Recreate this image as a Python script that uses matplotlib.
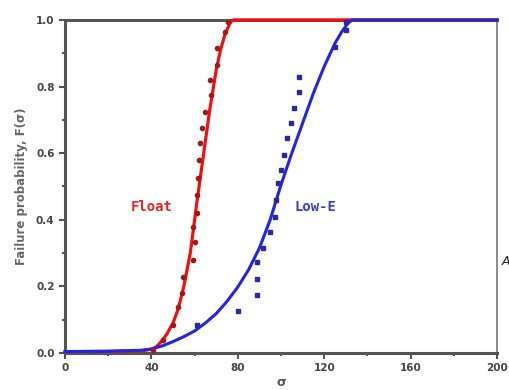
import numpy as np
import matplotlib
matplotlib.use("Agg")
import matplotlib.pyplot as plt
from matplotlib.ticker import MultipleLocator

float_x = [40.6, 45.3, 49.9, 52.2, 54.0, 54.5, 59.1, 60.0, 59.1, 61.0, 61.0,
           61.4, 61.9, 62.4, 63.3, 64.7, 67.4, 67.0, 70.2, 70.2, 73.9, 75.3]
float_f = [0.009, 0.039, 0.084, 0.138, 0.180, 0.228, 0.279, 0.333, 0.378, 0.420, 0.474,
           0.526, 0.580, 0.631, 0.676, 0.724, 0.775, 0.820, 0.865, 0.916, 0.964, 0.994]

lowe_x = [61.0, 79.9, 88.7, 89.1, 89.1, 91.5, 94.7, 97.0, 97.9, 98.4,
          99.8, 101.6, 103.0, 104.4, 106.2, 108.1, 108.1, 125.2, 130.3, 130.3]
lowe_f = [0.084, 0.126, 0.174, 0.222, 0.273, 0.315, 0.363, 0.408, 0.459, 0.511,
          0.550, 0.595, 0.646, 0.691, 0.736, 0.784, 0.829, 0.919, 0.970, 0.994]

# fitted curves
float_fit_x = [0, 20, 36, 40, 42, 44, 47, 50, 52, 53.5, 55, 56.5, 58, 61, 64, 67, 70,
               72, 74, 76, 77, 78, 200]
float_fit_f = [0.004, 0.005, 0.007, 0.011, 0.017, 0.03, 0.055, 0.09, 0.125, 0.16, 0.2,
               0.25, 0.3, 0.45, 0.59, 0.73, 0.85, 0.91, 0.955, 0.985, 0.996, 1.0, 1.0]

lowe_fit_x = [0, 20, 35, 40, 45, 50, 55, 60, 65, 70, 75, 80, 85, 90, 95, 100, 105, 110,
              115, 120, 125, 128, 131, 133, 140, 200]
lowe_fit_f = [0.004, 0.005, 0.008, 0.012, 0.021, 0.034, 0.049, 0.066, 0.09, 0.118, 0.155,
              0.198, 0.25, 0.315, 0.4, 0.505, 0.6, 0.69, 0.78, 0.86, 0.93, 0.963, 0.99,
              1.0, 1.0, 1.0]

fig = plt.figure(figsize=(5.1, 3.9), dpi=100)
ax = fig.add_axes([0.1275, 0.095, 0.847, 0.854])

ax.plot(float_fit_x, float_fit_f, '-', color='#f01010', lw=2.3, clip_on=False, zorder=3)
ax.plot(lowe_fit_x, lowe_fit_f, '-', color='#2424e6', lw=2.2, clip_on=False, zorder=3)
ax.plot(float_x, float_f, 'o', color='#a01818', ms=3, zorder=4, clip_on=False)
ax.plot(lowe_x, lowe_f, 's', color='#2a2aa0', ms=2.5, zorder=4, clip_on=False)

ax.text(40, 0.438, "Float", color='#f02020', fontsize=10, fontweight='bold',
        family='DejaVu Sans Mono', ha='center', va='center')
ax.text(116, 0.438, "Low-E", color='#3a3ae0', fontsize=10, fontweight='bold',
        family='DejaVu Sans Mono', ha='center', va='center')

ax.set_xlim(0, 200)
ax.set_ylim(0, 1.0)
ax.xaxis.set_major_locator(MultipleLocator(40))
ax.xaxis.set_minor_locator(MultipleLocator(20))
ax.yaxis.set_major_locator(MultipleLocator(0.2))
ax.yaxis.set_minor_locator(MultipleLocator(0.1))
ax.tick_params(which='both', direction='out', width=1.5, colors='#555555',
               labelcolor='#444444', labelsize=7.5)
ax.tick_params(which='major', length=4)
ax.tick_params(which='minor', length=2.5)
for lbl in ax.get_xticklabels() + ax.get_yticklabels():
    lbl.set_fontweight('bold')
ax.yaxis.set_major_formatter(matplotlib.ticker.FormatStrFormatter('%.1f'))

for side in ['left', 'bottom', 'top']:
    ax.spines[side].set_linewidth(2.2)
    ax.spines[side].set_color('#555555')
ax.spines['right'].set_linewidth(1.2)
ax.spines['right'].set_color('#777777')

ax.set_ylabel("Failure probability, F(\u03c3)", fontsize=8.5, fontweight='bold',
              color='#666666', labelpad=6)
ax.set_xlabel("\u03c3", fontsize=9, fontweight='bold', color='#555555', labelpad=2)

fig.text(0.984, 0.33, "A", fontsize=9, style='italic', color='#222222',
         ha='left', va='center')

fig.savefig("out.png", dpi=100)
